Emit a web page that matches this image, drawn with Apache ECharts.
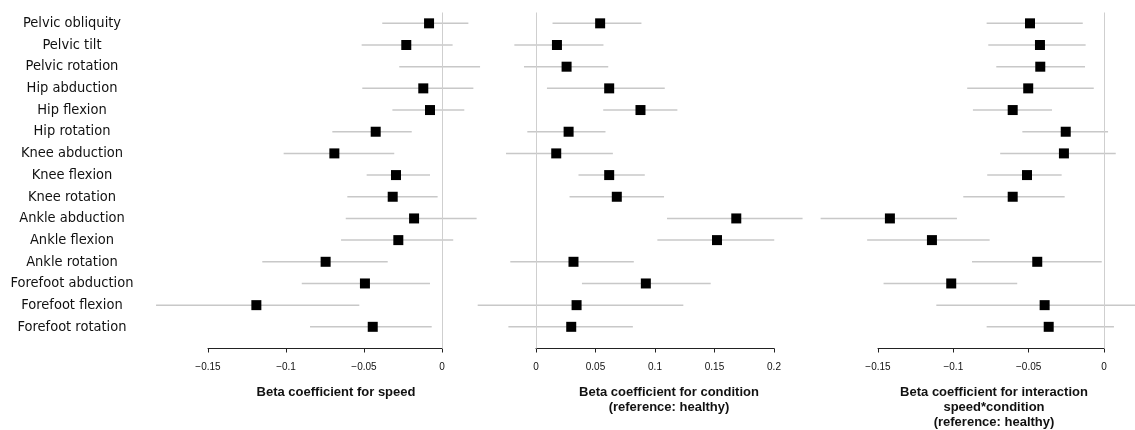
<!DOCTYPE html>
<html><head><meta charset="utf-8">
<script src="https://cdn.jsdelivr.net/npm/echarts@6/dist/echarts.min.js"></script>
<style>html,body{margin:0;padding:0;background:#fff}#c{width:1135px;height:430px}</style>
</head><body><div id="c"></div>
<script>
const categories = ['Pelvic obliquity','Pelvic tilt','Pelvic rotation','Hip abduction','Hip flexion','Hip rotation','Knee abduction','Knee flexion','Knee rotation','Ankle abduction','Ankle flexion','Ankle rotation','Forefoot abduction','Forefoot flexion','Forefoot rotation'];

const speedEst = [-0.0083,-0.0229,0.0009,-0.0120,-0.0077,-0.0425,-0.0690,-0.0295,-0.0316,-0.0179,-0.0280,-0.0746,-0.0494,-0.1190,-0.0444];
const speedLo  = [-0.0383,-0.0515,-0.0274,-0.0511,-0.0318,-0.0703,-0.1015,-0.0483,-0.0607,-0.0617,-0.0647,-0.1152,-0.0899,-0.1833,-0.0846];
const speedHi  = [0.0169,0.0068,0.0244,0.0201,0.0143,-0.0194,-0.0306,-0.0077,-0.0028,0.0222,0.0072,-0.0348,-0.0077,-0.0530,-0.0066];

const condEst = [0.0539,0.0176,0.0257,0.0615,0.0878,0.0274,0.0170,0.0615,0.0679,0.1683,0.1521,0.0315,0.0923,0.0341,0.0296];
const condLo  = [0.0139,-0.0182,-0.0101,0.0092,0.0565,-0.0073,-0.0252,0.0357,0.0282,0.1101,0.1020,-0.0216,0.0386,-0.0490,-0.0232];
const condHi  = [0.0886,0.0567,0.0607,0.1082,0.1188,0.0584,0.0646,0.0914,0.1076,0.2240,0.2002,0.0822,0.1468,0.1238,0.0814];

const interEst = [-0.0491,-0.0425,-0.0423,-0.0503,-0.0606,-0.0254,-0.0266,-0.0511,-0.0606,-0.1421,-0.1142,-0.0443,-0.1014,-0.0394,-0.0367];
const interLo  = [-0.0779,-0.0768,-0.0715,-0.0908,-0.0870,-0.0542,-0.0689,-0.0775,-0.0934,-0.1881,-0.1572,-0.0876,-0.1463,-0.1113,-0.0779];
const interHi  = [-0.0141,-0.0122,-0.0126,-0.0068,-0.0345,0.0027,0.0078,-0.0281,-0.0261,-0.0976,-0.0759,-0.0015,-0.0576,0.0220,0.0066];

const axisTitles = ['Beta coefficient for speed','Beta coefficient for condition\n(reference: healthy)','Beta coefficient for interaction\nspeed*condition\n(reference: healthy)'];

const panels = [
  {est: speedEst, lo: speedLo, hi: speedHi, min: -0.15, max: 0, left: 208, width: 234, pad: 22},
  {est: condEst, lo: condLo, hi: condHi, min: 0, max: 0.2, left: 536, width: 238, pad: 28},
  {est: interEst, lo: interLo, hi: interHi, min: -0.15, max: 0, left: 878, width: 226, pad: 6}
];

const rowIdx = categories.map((c, i) => i);
const grids = [], xAxes = [], yAxes = [], series = [];
panels.forEach((p, k) => {
  grids.push({left: p.left, width: p.width, top: 12.5, height: 336, outerBoundsMode: 'none', containLabel: false});
  xAxes.push({
    type: 'value', gridIndex: k, position: 'bottom', min: p.min, max: p.max, interval: 0.05,
    axisLine: {show: true, onZero: false, lineStyle: {color: '#222', width: 1}},
    axisTick: {show: true, length: 4, lineStyle: {color: '#222'}},
    splitLine: {show: false},
    axisLabel: {fontFamily: 'Liberation Sans', fontSize: 10, color: '#111', margin: 14,
      formatter: v => String(v).replace('-', '\u2212')},
    name: axisTitles[k], nameLocation: 'middle', nameGap: 36,
    nameTextStyle: {fontFamily: 'Liberation Sans', fontWeight: 'bold', fontSize: 13, color: '#111', lineHeight: 15,
      verticalAlign: 'top', padding: [0, 0, 0, p.pad]}
  });
  yAxes.push({
    type: 'value', gridIndex: k, min: -0.5, max: 15, inverse: true,
    axisLine: {show: false}, axisTick: {show: false}, splitLine: {show: false},
    axisLabel: k === 0 ? {show: true, customValues: rowIdx, formatter: v => categories[v] || '',
      align: 'center', margin: 136, fontFamily: 'DejaVu Sans Condensed, DejaVu Sans', fontSize: 14.5, color: '#111'} : {show: false}
  });
  series.push({
    type: 'custom', xAxisIndex: k, yAxisIndex: k, z: 2,
    data: rowIdx.map(i => [i, p.lo[i], p.hi[i]]),
    encode: {x: [1, 2], y: 0},
    renderItem: (params, api) => {
      const a = api.coord([api.value(1), api.value(0)]);
      const b = api.coord([api.value(2), api.value(0)]);
      return {type: 'line', shape: {x1: a[0], y1: a[1], x2: b[0], y2: b[1]}, style: {stroke: '#c8c8c8', lineWidth: 1.5}};
    },
    markLine: {silent: true, symbol: 'none', label: {show: false}, lineStyle: {color: '#cfcfcf', width: 1, type: 'solid'},
      data: [{xAxis: 0}]}
  });
  series.push({
    type: 'scatter', xAxisIndex: k, yAxisIndex: k, z: 3,
    symbol: 'rect', symbolSize: 10, itemStyle: {color: '#000', opacity: 1},
    data: rowIdx.map(i => [p.est[i], i])
  });
});

const chart = echarts.init(document.getElementById('c'));
chart.setOption({animation: false, grid: grids, xAxis: xAxes, yAxis: yAxes, series: series});
</script>
</body></html>
